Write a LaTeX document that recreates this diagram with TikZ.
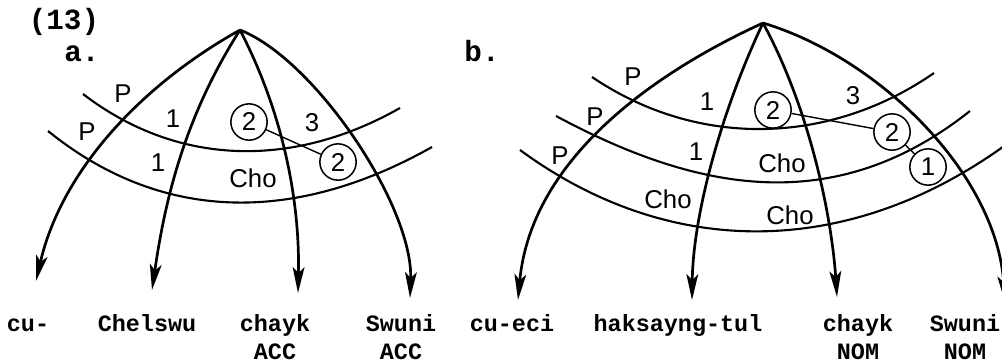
\documentclass[tikz,border=0pt]{standalone}
\usepackage{fontspec}
\setmainfont{Liberation Sans}
\setmonofont{Liberation Mono}
\usetikzlibrary{arrows.meta}
\tikzset{
  branch/.style  = {line width=2.3pt, -{Stealth[length=22pt, width=10pt, inset=5pt]}},
  stratum/.style = {line width=1.8pt},
  link/.style    = {line width=1.2pt},
  rel/.style     = {inner sep=0pt, font=\fontsize{22}{22}\selectfont},
  ringed/.style  = {circle, draw, line width=1.3pt, minimum size=31pt, inner sep=0pt,
                    font=\fontsize{22}{22}\selectfont},
  word/.style    = {anchor=base, inner sep=0pt, font=\fontsize{20}{20}\selectfont\ttfamily\bfseries},
  tag/.style     = {anchor=base, inner sep=0pt, font=\fontsize{25}{25}\selectfont\ttfamily\bfseries},
}

\begin{document}
\begin{tikzpicture}[x=0.03cm, y=-0.03cm]

    \useasboundingbox (0,0) rectangle (1002,364);

    \node[tag] (exnum) at (64,29) {(13)};
    \node[tag] (labA)  at (82,61) {a.};
    \node[tag] (labB)  at (482,61) {b.};

    %% Diagram a: root and branches
    \coordinate (rootA) at (240,30);
    \coordinate (endA1) at (36,281);
    \coordinate (endA2) at (152,290);
    \coordinate (endA3) at (298,293);
    \coordinate (endA4) at (410,298);

    \draw[branch] (rootA) .. controls (143.5,83.7) and (62,168.8)  .. (endA1);
    \draw[branch] (rootA) .. controls (183.7,118.2) and (164.8,201.8) .. (endA2);
    \draw[branch] (rootA) .. controls (284.8,116.2) and (300,205.3) .. (endA3);
    \draw[branch] (rootA) .. controls (314.7,59.3) and (413.3,205.7) .. (endA4);

    %% Diagram a: strata
    \coordinate (upA-l)  at (83,94);
    \coordinate (upA-r)  at (400,108);
    \coordinate (lowA-l) at (48,131);
    \coordinate (lowA-r) at (432,147);

    \draw[stratum] (upA-l)  .. controls (181.2,169.2) and (297.3,166.3) .. (upA-r);
    \draw[stratum] (lowA-l) .. controls (171.5,230.8) and (308.5,216.7) .. (lowA-r);

    %% Diagram a: relation labels
    \node[rel]    (pA1)    at (123,94)  {P};
    \node[rel]    (pA2)    at (87,132)  {P};
    \node[rel]    (oneA1)  at (173,119) {1};
    \node[rel]    (oneA2)  at (158,163) {1};
    \node[ringed] (twoA1)  at (249,122) {2};
    \node[rel]    (threeA) at (312,123) {3};
    \node[ringed] (twoA2)  at (338,162) {2};
    \node[rel]    (choA)   at (253,178) {Cho};

    \draw[link] (twoA1) -- (twoA2);

    %% Diagram a: words
    \node[word] (cuA)     at (28,331)  {cu-};
    \node[word] (chelswu) at (147,331) {Chelswu};
    \node[word] (chaykA)  at (275,331) {chayk};
    \node[word] (accA1)   at (275,359) {ACC};
    \node[word] (swuniA)  at (401,331) {Swuni};
    \node[word] (accA2)   at (401,359) {ACC};

    %% Diagram b: root and branches
    \coordinate (rootB) at (763,23);
    \coordinate (endB1) at (518,300);
    \coordinate (endB2) at (692,300);
    \coordinate (endB3) at (837,297);
    \coordinate (endB4) at (1005,302);

    \draw[branch] (rootB) .. controls (649.8,74.8) and (530.7,161.2) .. (endB1);
    \draw[branch] (rootB) .. controls (721.3,110.8) and (693,215.2) .. (endB2);
    \draw[branch] (rootB) .. controls (810.2,109.8) and (831.8,217.7) .. (endB3);
    \draw[branch] (rootB) .. controls (878.2,57.5) and (996.3,173) .. (endB4);

    %% Diagram b: strata
    \coordinate (upB-l)  at (592,77);
    \coordinate (upB-r)  at (934,73);
    \coordinate (midB-l) at (556,116);
    \coordinate (midB-r) at (970,111);
    \coordinate (lowB-l) at (520,150);
    \coordinate (lowB-r) at (1015,138);

    \draw[stratum] (upB-l)  .. controls (698.5,149.2) and (830.5,144.8) .. (upB-r);
    \draw[stratum] (midB-l) .. controls (695.5,190.8) and (833.5,219.2) .. (midB-r);
    \draw[stratum] (lowB-l) .. controls (676,264.5) and (859,256) .. (lowB-r);

    %% Diagram b: relation labels
    \node[rel]    (pB1)    at (633,77)  {P};
    \node[rel]    (pB2)    at (595,117) {P};
    \node[rel]    (pB3)    at (560,156) {P};
    \node[rel]    (oneB1)  at (707,102) {1};
    \node[rel]    (oneB2)  at (696,152) {1};
    \node[ringed] (twoB1)  at (773,110) {2};
    \node[rel]    (threeB) at (853,96)  {3};
    \node[ringed] (twoB2)  at (892,132) {2};
    \node[ringed] (oneB3)  at (928,167) {1};
    \node[rel]    (choB1)  at (782,163) {Cho};
    \node[rel]    (choB2)  at (668,199) {Cho};
    \node[rel]    (choB3)  at (790,215) {Cho};

    \draw[link] (twoB1) -- (twoB2);
    \draw[link] (twoB2) -- (oneB3);

    %% Diagram b: words
    \node[word] (cuB)    at (512,331) {cu-eci};
    \node[word] (hak)    at (678,331) {haksayng-tul};
    \node[word] (chaykB) at (858,331) {chayk};
    \node[word] (nomB1)  at (858,359) {NOM};
    \node[word] (swuniB) at (965,331) {Swuni};
    \node[word] (nomB2)  at (965,359) {NOM};

\end{tikzpicture}
\end{document}
